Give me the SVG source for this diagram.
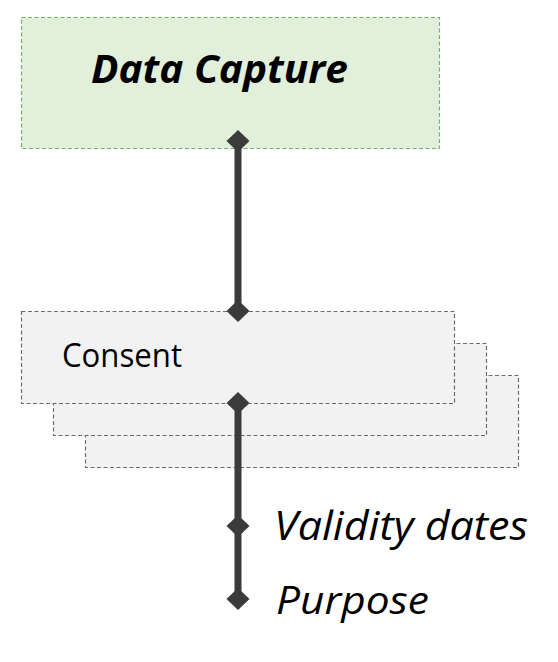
<svg xmlns="http://www.w3.org/2000/svg" width="558" height="662" viewBox="0 0 558 662">
  <defs>
    <style>
      .green { fill: #e2efda; stroke: #6fb36a; stroke-width: 1.2; stroke-dasharray: 4 2.5; }
      .gray { fill: #f2f2f2; stroke: #6b6b6b; stroke-width: 1.2; stroke-dasharray: 4 2.5; }
      .conn { stroke: #3b3b3b; stroke-width: 7; fill: none; }
      .dia { fill: #3b3b3b; }
      .t { font-family: "Open Sans", "Liberation Sans", sans-serif; fill: #000; }
    </style>
    <path id="d" d="M0,-11 L11.5,0 L0,11 L-11.5,0 Z" class="dia"/>
  </defs>
  <rect width="558" height="662" fill="#ffffff"/>
  <g id="data-capture">
    <rect class="green" x="21.5" y="17.5" width="418" height="131"/>
    <text class="t" x="91" y="83" font-size="40" font-weight="bold" font-style="italic" textLength="257" lengthAdjust="spacingAndGlyphs">Data Capture</text>
  </g>
  <g id="consent">
    <rect class="gray" x="85.5" y="375.5" width="433" height="92"/>
    <rect class="gray" x="53.5" y="343.5" width="433" height="92"/>
    <rect class="gray" x="21.5" y="311.5" width="433" height="92"/>
    <text class="t" x="62" y="367" font-size="32" textLength="120" lengthAdjust="spacingAndGlyphs">Consent</text>
  </g>
  <g id="connectors">
    <line class="conn" x1="238" y1="141" x2="238" y2="311"/>
    <line class="conn" x1="238" y1="403" x2="238" y2="599"/>
    <use href="#d" x="238" y="141"/>
    <use href="#d" x="238" y="311"/>
    <use href="#d" x="238" y="403"/>
    <use href="#d" x="238" y="526"/>
    <use href="#d" x="238" y="599"/>
  </g>
  <g id="attr-validity">
    <text class="t" x="274" y="540" font-size="40" font-style="italic" textLength="254" lengthAdjust="spacingAndGlyphs">Validity dates</text>
  </g>
  <g id="attr-purpose">
    <text class="t" x="276" y="614" font-size="39" font-style="italic" textLength="153" lengthAdjust="spacingAndGlyphs">Purpose</text>
  </g>
</svg>
